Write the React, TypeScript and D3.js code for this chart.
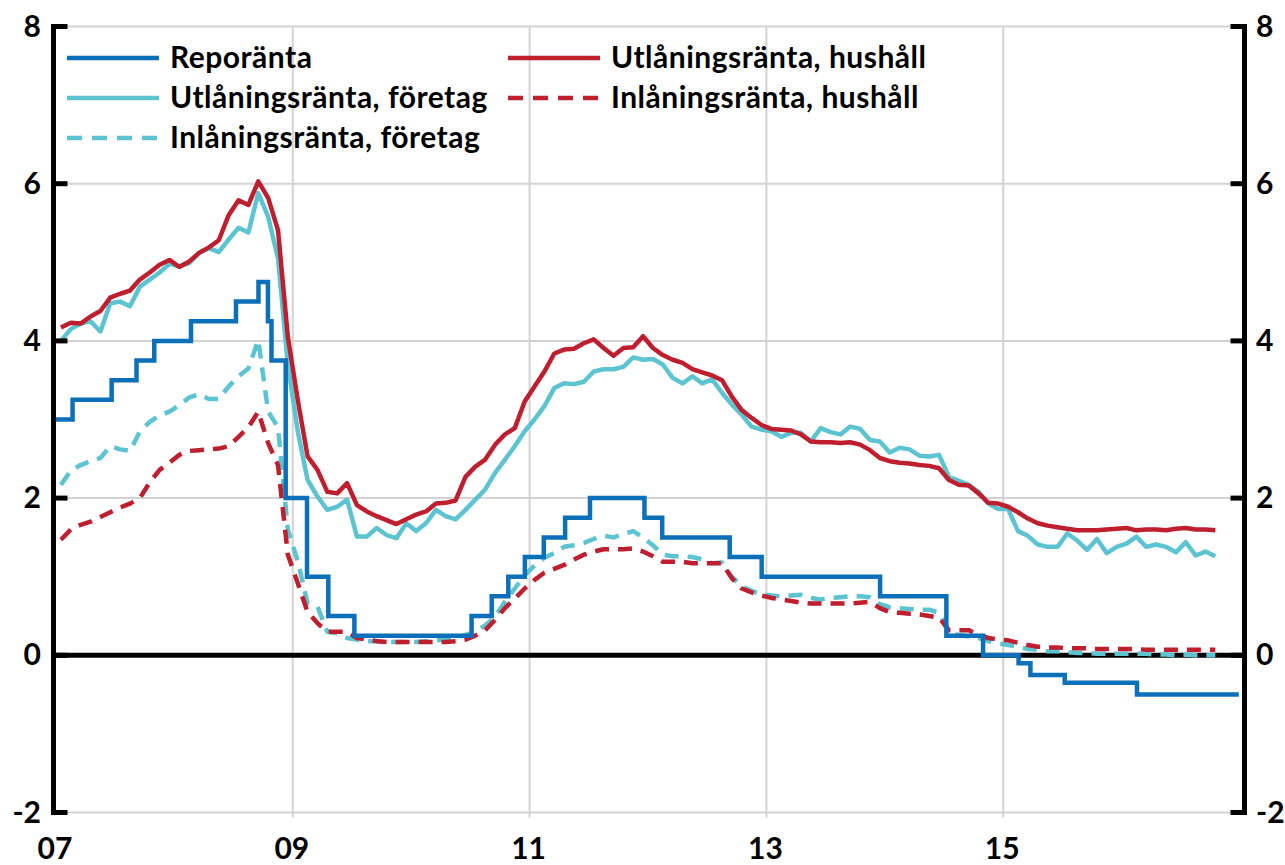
import React from 'react';
import * as d3 from 'd3';

// Reporänta: date of each change (decimal year) and the new level, last entry = end of series
const repoDates = [
  2007.0, 2007.14, 2007.47, 2007.68, 2007.83, 2008.14, 2008.52, 2008.71, 2008.79, 2008.82,
  2008.94, 2009.12, 2009.3, 2009.52, 2010.51, 2010.68, 2010.82, 2010.96, 2011.12, 2011.3,
  2011.51, 2011.97, 2012.12, 2012.69, 2012.96, 2013.96, 2014.52, 2014.83, 2015.13, 2015.23,
  2015.52, 2016.13, 2016.99,
];
const repoValues = [
  3.0, 3.25, 3.5, 3.75, 4.0, 4.25, 4.5, 4.75, 4.25, 3.75,
  2.0, 1.0, 0.5, 0.25, 0.5, 0.75, 1.0, 1.25, 1.5, 1.75,
  2.0, 1.75, 1.5, 1.25, 1.0, 0.75, 0.25, 0.0, -0.1, -0.25,
  -0.35, -0.5, -0.5,
];

// monthly series, Jan 2007 - Oct 2016
const firstYear = 2007;
const utlHushall = [
  4.17, 4.23, 4.22, 4.31, 4.38, 4.55, 4.6, 4.64, 4.78, 4.87, 4.97, 5.03,
  4.94, 5.01, 5.12, 5.19, 5.28, 5.6, 5.79, 5.73, 6.03, 5.82, 5.41, 4.05,
  3.25, 2.53, 2.36, 2.08, 2.06, 2.19, 1.91, 1.83, 1.77, 1.72, 1.67, 1.73,
  1.79, 1.83, 1.93, 1.94, 1.97, 2.27, 2.4, 2.49, 2.68, 2.81, 2.89, 3.23,
  3.42, 3.61, 3.84, 3.89, 3.9, 3.97, 4.02, 3.91, 3.81, 3.91, 3.92, 4.06,
  3.91, 3.82, 3.76, 3.72, 3.64, 3.6, 3.56, 3.5, 3.29, 3.12, 3.02, 2.93,
  2.88, 2.87, 2.86, 2.81, 2.72, 2.71, 2.71, 2.7, 2.71, 2.68, 2.61, 2.51,
  2.47, 2.45, 2.44, 2.42, 2.41, 2.38, 2.23, 2.17, 2.16, 2.06, 1.94, 1.93,
  1.89, 1.82, 1.74, 1.68, 1.65, 1.63, 1.61, 1.59, 1.59, 1.59, 1.6, 1.61,
  1.62, 1.59, 1.6, 1.6, 1.59, 1.61, 1.62, 1.6, 1.6, 1.59,
];
const utlForetag = [
  4.0, 4.15, 4.22, 4.25, 4.12, 4.48, 4.5, 4.44, 4.69, 4.78, 4.87, 4.98,
  4.95, 4.99, 5.12, 5.18, 5.13, 5.29, 5.44, 5.38, 5.88, 5.58, 5.05, 3.7,
  2.85, 2.23, 2.02, 1.85, 1.89, 1.98, 1.51, 1.51, 1.62, 1.53, 1.49, 1.68,
  1.58, 1.68, 1.85, 1.77, 1.73, 1.85, 1.98, 2.11, 2.32, 2.49, 2.66, 2.85,
  3.0, 3.17, 3.4, 3.46, 3.45, 3.48, 3.61, 3.64, 3.64, 3.67, 3.79, 3.76,
  3.77, 3.7, 3.53, 3.46, 3.55, 3.46, 3.51, 3.34, 3.19, 3.06, 2.91, 2.87,
  2.85, 2.78, 2.83, 2.83, 2.72, 2.89, 2.84, 2.81, 2.91, 2.88, 2.74, 2.72,
  2.58, 2.64, 2.62, 2.54, 2.53, 2.55, 2.27, 2.22, 2.17, 2.08, 1.93, 1.86,
  1.86, 1.58, 1.52, 1.41, 1.38, 1.38, 1.55, 1.46, 1.34, 1.48, 1.3, 1.38,
  1.42, 1.51, 1.38, 1.41, 1.38, 1.31, 1.44, 1.27, 1.32, 1.26,
];
const inlHushall = [
  1.47, 1.6, 1.66, 1.7, 1.76, 1.82, 1.88, 1.93, 2.0, 2.2, 2.36, 2.45,
  2.55, 2.6, 2.61, 2.62, 2.63, 2.66, 2.78, 2.9, 3.1, 2.7, 2.42, 1.28,
  0.92, 0.55, 0.41, 0.3, 0.3, 0.3, 0.22, 0.2, 0.18, 0.17, 0.17, 0.17,
  0.17, 0.17, 0.17, 0.17, 0.18, 0.2, 0.25, 0.32, 0.45, 0.6, 0.72, 0.85,
  0.96, 1.05, 1.1, 1.15, 1.22, 1.28, 1.32, 1.35, 1.35, 1.35, 1.36, 1.32,
  1.26, 1.19, 1.19, 1.19, 1.17, 1.17, 1.17, 1.17, 0.98, 0.85, 0.8, 0.76,
  0.73, 0.71, 0.69, 0.67, 0.66, 0.66, 0.66, 0.66, 0.66, 0.67, 0.68, 0.6,
  0.55, 0.54, 0.53, 0.52, 0.5, 0.48, 0.32, 0.32, 0.32, 0.26, 0.22, 0.2,
  0.19, 0.16, 0.13, 0.11, 0.1, 0.1, 0.09, 0.09, 0.09, 0.08, 0.08, 0.08,
  0.08, 0.08, 0.07, 0.07, 0.07, 0.07, 0.07, 0.07, 0.07, 0.07,
];
const inlForetag = [
  2.17, 2.35, 2.42, 2.47, 2.51, 2.66, 2.62, 2.6, 2.85, 2.97, 3.05, 3.1,
  3.18, 3.28, 3.32, 3.26, 3.26, 3.42, 3.55, 3.65, 4.01, 3.1, 2.9, 1.6,
  1.2, 0.66, 0.62, 0.3, 0.28, 0.22, 0.2, 0.18, 0.18, 0.17, 0.17, 0.17,
  0.17, 0.18, 0.19, 0.2, 0.22, 0.26, 0.3, 0.38, 0.49, 0.68, 0.85, 1.02,
  1.14, 1.24, 1.3, 1.38, 1.4, 1.43, 1.48, 1.52, 1.5, 1.54, 1.58, 1.5,
  1.4, 1.28, 1.26, 1.26, 1.25, 1.22, 1.17, 1.18, 1.0, 0.88, 0.82, 0.77,
  0.76, 0.75, 0.76, 0.77, 0.73, 0.71, 0.73, 0.74, 0.75, 0.75, 0.74, 0.65,
  0.61, 0.6, 0.59, 0.58, 0.58, 0.54, 0.28, 0.26, 0.24, 0.22, 0.18, 0.15,
  0.13, 0.11, 0.08, 0.07, 0.05, 0.05, 0.04, 0.03, 0.03, 0.02, 0.02, 0.02,
  0.02, 0.02, 0.02, 0.01, 0.01, 0.0, 0.01, 0.0, 0.0, 0.0,
];

const yTicks = [-2, 0, 2, 4, 6, 8];
const xTicks = [2007, 2009, 2011, 2013, 2015];
const xTickLabels = ['07', '09', '11', '13', '15'];

const BLUE = '#0b6fba';
const CYAN = '#5cc3d0';
const RED = '#be1e2d';
const FONT = 'Lato, "Open Sans", sans-serif';

const legendItems = [
  { label: 'Reporänta', color: BLUE, dash: null, col: 0, row: 0 },
  { label: 'Utlåningsränta, företag', color: CYAN, dash: null, col: 0, row: 1 },
  { label: 'Inlåningsränta, företag', color: CYAN, dash: '15,10', col: 0, row: 2 },
  { label: 'Utlåningsränta, hushåll', color: RED, dash: null, col: 1, row: 0 },
  { label: 'Inlåningsränta, hushåll', color: RED, dash: '15,10', col: 1, row: 1 },
];

export default function App() {
  const width = 1285;
  const height = 865;
  const x = d3.scaleLinear().domain([2007, 2017]).range([56, 1240]);
  const y = d3.scaleLinear().domain([-2, 8]).range([812.5, 26.5]);
  const left = 53.5;
  const right = 1244.5;

  const monthly = (vals: number[]) =>
    vals.map((v, i) => [firstYear + (i + 0.5) / 12, v] as [number, number]);
  const line = d3
    .line<[number, number]>()
    .x((d) => x(d[0]))
    .y((d) => y(d[1]));
  const stepLine = d3
    .line<[number, number]>()
    .x((d) => x(d[0]))
    .y((d) => y(d[1]))
    .curve(d3.curveStepAfter);

  const repo = repoDates.map((t, i) => [t, repoValues[i]] as [number, number]);

  // drawing order: dashed first, then solid lines, repo on top
  const series = [
    { data: monthly(inlForetag), color: CYAN, dash: '14,9' },
    { data: monthly(inlHushall), color: RED, dash: '14,9' },
    { data: monthly(utlForetag), color: CYAN, dash: null },
    { data: monthly(utlHushall), color: RED, dash: null },
  ];

  return (
    <svg
      width={width}
      height={height}
      style={{ position: 'absolute', left: 0, top: 0, background: '#fff' }}
      fontFamily={FONT}
      fontWeight="bold"
    >
      {/* grid */}
      {yTicks
        .filter((v) => v !== 0)
        .map((v) => (
          <line key={'gy' + v} x1={left} x2={right} y1={y(v)} y2={y(v)} stroke="#d3d3d3" strokeWidth={2} />
        ))}
      {xTicks.slice(1).map((t) => (
        <line key={'gx' + t} x1={x(t)} x2={x(t)} y1={y(8)} y2={y(-2) + 5} stroke="#d3d3d3" strokeWidth={2} />
      ))}
      {/* zero line */}
      <line x1={left} x2={right} y1={y(0)} y2={y(0)} stroke="#000" strokeWidth={5} />

      {/* data */}
      {series.map((s, i) => (
        <path
          key={i}
          d={line(s.data) || ''}
          fill="none"
          stroke={s.color}
          strokeWidth={4.5}
          strokeDasharray={s.dash || undefined}
          strokeLinejoin="round"
        />
      ))}
      <path d={stepLine(repo) || ''} fill="none" stroke={BLUE} strokeWidth={4.5} />

      {/* axes */}
      <line x1={left} x2={left} y1={y(8) - 2.5} y2={y(-2) + 2.5} stroke="#000" strokeWidth={5} />
      <line x1={right} x2={right} y1={y(8) - 2.5} y2={y(-2) + 2.5} stroke="#000" strokeWidth={5} />
      {yTicks.map((v) => (
        <g key={'t' + v}>
          <line x1={left} x2={left + 14} y1={y(v)} y2={y(v)} stroke="#000" strokeWidth={5} />
          <line x1={right - 14} x2={right} y1={y(v)} y2={y(v)} stroke="#000" strokeWidth={5} />
          <text x={41} y={y(v) + 10} textAnchor="end" fontSize={30}>
            {v}
          </text>
          <text x={1256} y={y(v) + 10} textAnchor="start" fontSize={30}>
            {v}
          </text>
        </g>
      ))}
      {xTicks.map((t, i) => (
        <text key={'xl' + t} x={x(t) - 1} y={859} textAnchor="middle" fontSize={30}>
          {xTickLabels[i]}
        </text>
      ))}

      {/* legend */}
      {legendItems.map((it) => {
        const lx = it.col === 0 ? 67 : 508;
        const ly = 58 + it.row * 40;
        return (
          <g key={it.label}>
            <line
              x1={lx}
              x2={lx + 92}
              y1={ly}
              y2={ly}
              stroke={it.color}
              strokeWidth={4.5}
              strokeDasharray={it.dash || undefined}
            />
            <text x={lx + 103} y={ly + 10} fontSize={30} letterSpacing={0.5}>
              {it.label}
            </text>
          </g>
        );
      })}
    </svg>
  );
}
